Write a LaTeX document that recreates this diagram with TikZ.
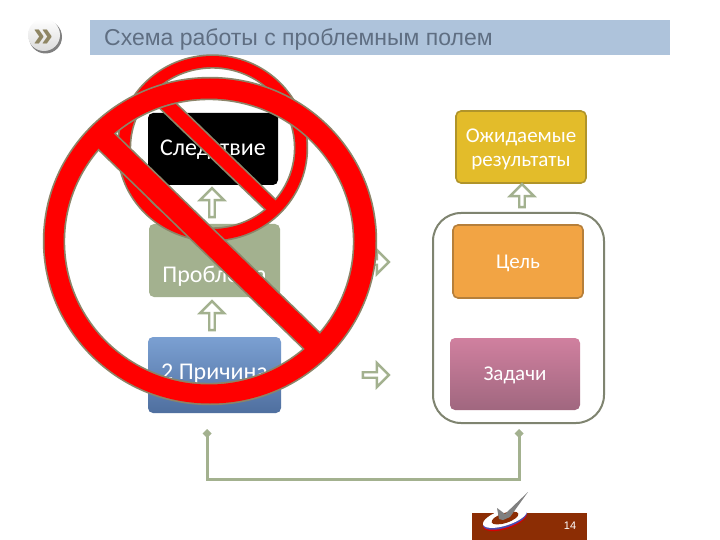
\documentclass[tikz,border=0pt]{standalone}
\usepackage{fontspec}
\setmainfont{Carlito}
\newfontfamily\arialfont{Liberation Sans}
\usetikzlibrary{arrows.meta,positioning,shapes.arrows}
\definecolor{sage}{HTML}{A3B18F}
\definecolor{signred}{HTML}{FF0000}
\definecolor{signline}{HTML}{8C8468}
\definecolor{titlefill}{HTML}{AEC3DB}
\definecolor{titletext}{HTML}{5F6E82}
\definecolor{yellowfill}{HTML}{E3BC2A}
\definecolor{yellowline}{HTML}{B0942A}
\definecolor{orangefill}{HTML}{F2A444}
\definecolor{orangeline}{HTML}{B67F3A}
\definecolor{bluetop}{HTML}{7BA0D2}
\definecolor{bluebottom}{HTML}{4F6F9F}
\definecolor{pinktop}{HTML}{D0809F}
\definecolor{pinkbottom}{HTML}{A0677F}
\definecolor{footerfill}{HTML}{8C2D04}
\definecolor{frameline}{HTML}{7F8470}
\definecolor{chevron}{HTML}{8F8664}
\tikzset{
  x=1pt, y=-1pt,
  box/.style={
    rounded corners=5pt,
    align=center,
    inner sep=0pt,
    text=white,
    font=\fontsize{21}{24}\selectfont
  },
  leftbox/.style={box, font=\fontsize{24}{27}\selectfont},
  drop/.style={text height=#1, text depth=0pt},
  hollowarrow/.style={
    draw=sage,
    fill=white,
    line width=2.4pt,
    single arrow,
    single arrow head extend=4pt,
    minimum width=24pt,
    inner sep=0pt
  },
  uparrow/.style={hollowarrow, shape border rotate=90},
  rightarrow/.style={hollowarrow, minimum height=26pt},
  signedge/.style={draw=signline, line width=3.4pt, even odd rule},
  signfill/.style={fill=signred, even odd rule},
  link/.style={{Diamond[length=9pt,width=9pt]}-{Diamond[length=9pt,width=9pt]}, draw=sage, line width=3pt}
}
\begin{document}
\begin{tikzpicture}
\useasboundingbox (0,0) rectangle (720,540);
\fill[white] (0,0) rectangle (720,540);

% Header
\node[circle, minimum size=33pt, inner sep=0pt, fill=black!50] (badgeshadow) at (45.5,37) {};
\node[circle, minimum size=32pt, inner sep=0pt, top color=white, bottom color=black!14, text=chevron, drop=23pt, font=\arialfont\bfseries\fontsize{36}{36}\selectfont] (badge) at (44,35) {»};
\node[fill=titlefill, minimum width=580pt, minimum height=35pt, inner sep=0pt, anchor=north west] (title) at (90,20) {};
\node[anchor=base west, inner sep=0pt, text=titletext, font=\arialfont\fontsize{23}{26}\selectfont] (titlelabel) at (104,46) {Схема работы с проблемным полем};

% Left column
\node[leftbox, fill=black, drop=14pt, minimum width=130pt, minimum height=72pt] (effect) at (213,149) {Следствие};
\node[leftbox, fill=sage, drop=43pt, minimum width=131pt, minimum height=73pt] (problem) at (214.5,260.5) {Проблема};
\node[leftbox, top color=bluetop, bottom color=bluebottom, drop=8pt, minimum width=133pt, minimum height=76pt] (cause) at (214.5,375) {2 Причина};

\node[uparrow, minimum height=29pt] (arrowa) at (212,204) {};
\node[uparrow, minimum height=29pt] (arrowb) at (212,317) {};
\node[rightarrow] (arrowc) at (374.5,262) {};
\node[rightarrow] (arrowd) at (374.5,375) {};

% Right column
\node[draw=frameline, line width=2pt, rounded corners=28pt, inner sep=0pt, minimum width=171pt, minimum height=210pt] (frame) at (518.5,318) {};
\node[box, fill=yellowfill, draw=yellowline, line width=1.6pt, minimum width=130pt, minimum height=72pt] (result) at (521,147) {\rule{0pt}{19pt}Ожидаемые\\результаты};
\node[box, fill=orangefill, draw=orangeline, line width=1.6pt, drop=13pt, minimum width=130pt, minimum height=73pt] (goal) at (518,261.5) {Цель};
\node[box, top color=pinktop, bottom color=pinkbottom, drop=12pt, minimum width=130pt, minimum height=72pt] (tasks) at (515,374) {Задачи};
\node[uparrow, minimum height=23pt] (arrowe) at (522,197) {};

% Feedback
\coordinate (linkl) at (207,429);
\coordinate (linkr) at (519,429);
\draw[link] (linkl) -- (207,479) -- (519,479) -- (linkr);

% Footer
\node[fill=footerfill, minimum width=115pt, minimum height=27pt, inner sep=0pt, anchor=north west] (footer) at (472,513) {};
\node[text=white, inner sep=0pt, font=\arialfont\fontsize{11}{13}\selectfont] (page) at (570,526) {14};

% Logo
\fill[red!85!black, rotate around={18:(505,520)}] (505,520) ellipse (23 and 9);
\fill[blue!55!black!70!white, rotate around={18:(505,519)}] (505,519) ellipse (23 and 8.5);
\fill[white, rotate around={18:(505,517.5)}] (505,517.5) ellipse (23 and 8);
\fill[footerfill, rotate around={18:(505,518)}] (505,518) ellipse (14 and 5);
\fill[black!50] (497,508) -- (505,514) -- (528,492) -- (510,517) -- (503,520) -- (499,519) -- cycle;

% Prohibition signs
\foreach \pass in {signedge,signfill} {
  \path[\pass] (212.5,148) ellipse (94 and 92) (212.5,148) ellipse (83 and 81);
  \path[\pass] (155,84) -- (281,206) -- (272,215) -- (143,91) -- cycle;
}
\foreach \pass in {signedge,signfill} {
  \path[\pass] (210,241) ellipse (165.5 and 162.5) (209,241.5) ellipse (145.5 and 143);
  \path[\pass] (111,131) -- (323,337) -- (308,352) -- (96,146) -- cycle;
}
\end{tikzpicture}
\end{document}
